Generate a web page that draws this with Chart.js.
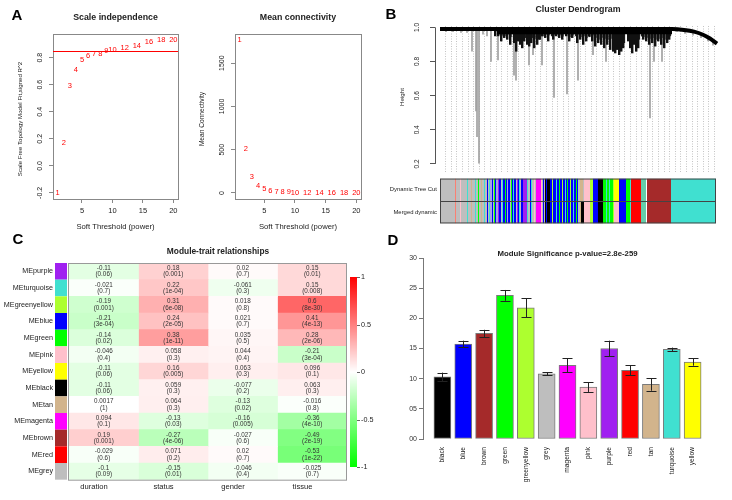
<!DOCTYPE html>
<html>
<head>
<meta charset="utf-8">
<script src="https://cdn.jsdelivr.net/npm/chart.js@4"></script>
<style>
  html, body { margin: 0; padding: 0; background: #fff; }
  #wrap { position: relative; width: 732px; height: 500px; overflow: hidden; }
  canvas { position: absolute; }
</style>
</head>
<body>
<div id="wrap">
  <canvas id="sft" width="190" height="240" style="left:0;top:0"></canvas>
  <canvas id="conn" width="190" height="240" style="left:190px;top:0"></canvas>
  <canvas id="dendro" width="352" height="176" style="left:380px;top:0"></canvas>
  <canvas id="strip" width="352" height="58" style="left:380px;top:172px"></canvas>
  <canvas id="heat" width="380" height="272" style="left:0;top:228px"></canvas>
  <canvas id="bars" width="352" height="272" style="left:380px;top:228px"></canvas>
</div>
<script>
// ---- panel A: soft threshold picking
const powers = [1, 2, 3, 4, 5, 6, 7, 8, 9, 10, 12, 14, 16, 18, 20];
const scaleFitR2 = [-0.20, 0.17, 0.59, 0.71, 0.78, 0.81, 0.83, 0.83, 0.85, 0.86, 0.87, 0.89, 0.92, 0.93, 0.93];
const meanConnectivity = [1767, 512, 186, 81, 45, 25, 14, 10, 7, 5, 3, 2, 1.5, 1, 0.8];
const r2Cutoff = 0.85;
const softTicks = [5, 10, 15, 20];
const r2Ticks = [-0.2, 0, 0.2, 0.4, 0.6, 0.8];
const connTicks = [0, 500, 1000, 1500];

// ---- panel B: dendrogram branches (leaf position, lower merge height)
const greyBranchPos = [5, 12, 20, 26, 31, 35, 36, 38, 42, 46, 50, 57, 62, 73, 75, 88, 92, 101, 113, 126, 137, 152, 165, 209, 213, 221, 236, 244, 252, 260, 267, 272];
const greyBranchLow = [0.975, 0.975, 0.97, 0.97, 0.86, 0.51, 0.36, 0.205, 0.96, 0.95, 0.80, 0.81, 0.95, 0.72, 0.69, 0.78, 0.84, 0.78, 0.59, 0.61, 0.69, 0.84, 0.80, 0.47, 0.80, 0.80, 0.975, 0.965, 0.955, 0.94, 0.92, 0.895];
const greyBranchTop = [0.99, 0.99, 0.99, 0.99, 0.99, 0.99, 0.99, 0.99, 0.99, 0.99, 0.99, 0.99, 0.99, 0.99, 0.99, 0.99, 0.99, 0.99, 0.99, 0.99, 0.99, 0.99, 0.99, 0.99, 0.99, 0.99, 0.99, 0.987, 0.98, 0.965, 0.945, 0.92];
const blackBranchPos = [57, 60, 63, 66, 69, 72, 76, 78, 80, 82, 84, 86, 89, 91, 93, 96, 99, 101, 104, 107, 110, 115, 118, 121, 124, 128, 131, 134, 139, 142, 145, 148, 151, 154, 157, 160, 163, 166, 169, 172, 175, 177, 179, 181, 183, 185, 190, 192, 194, 196, 198, 200, 205, 208, 211, 214, 217, 220, 223, 226, 229, 231];
const blackBranchLow = [0.95, 0.95, 0.92, 0.94, 0.93, 0.90, 0.91, 0.86, 0.92, 0.90, 0.88, 0.92, 0.90, 0.89, 0.91, 0.88, 0.90, 0.93, 0.95, 0.94, 0.92, 0.93, 0.95, 0.94, 0.93, 0.95, 0.92, 0.94, 0.91, 0.93, 0.90, 0.92, 0.95, 0.92, 0.89, 0.91, 0.90, 0.88, 0.90, 0.87, 0.86, 0.85, 0.87, 0.84, 0.86, 0.88, 0.92, 0.88, 0.85, 0.90, 0.86, 0.88, 0.93, 0.92, 0.90, 0.91, 0.89, 0.92, 0.90, 0.88, 0.91, 0.93];
const twigPos = [58.5, 61.5, 64.5, 67.5, 70.5, 74, 77, 79, 81, 83, 85, 87.5, 90, 92, 94.5, 97.5, 100, 102.5, 105.5, 108.5, 112, 113.5, 116.5, 119.5, 122.5, 126, 129.5, 132.5, 136, 137.5, 140.5, 143.5, 146.5, 149.5, 152.5, 155.5, 158.5, 161.5, 164.5, 167.5, 170.5, 173.5, 176, 178, 180, 182, 184, 188.5, 191, 193, 195, 197, 199, 202, 203.5, 206.5, 209.5, 212.5, 215.5, 218.5, 221.5, 224.5, 227.5, 230];
const twigLow = [0.96, 0.955, 0.95, 0.96, 0.945, 0.94, 0.93, 0.935, 0.94, 0.93, 0.94, 0.945, 0.93, 0.94, 0.935, 0.94, 0.93, 0.95, 0.96, 0.955, 0.95, 0.955, 0.96, 0.955, 0.95, 0.96, 0.945, 0.955, 0.95, 0.96, 0.945, 0.95, 0.94, 0.945, 0.955, 0.94, 0.93, 0.94, 0.935, 0.93, 0.935, 0.92, 0.915, 0.91, 0.92, 0.905, 0.91, 0.935, 0.92, 0.91, 0.925, 0.92, 0.93, 0.95, 0.945, 0.94, 0.935, 0.94, 0.93, 0.935, 0.94, 0.93, 0.945, 0.95];
const bandPos = [0, 232, 244, 254, 263, 270, 277];
const bandHeight = [0.99, 0.99, 0.985, 0.975, 0.957, 0.935, 0.905];
const corePos = [57, 232];
const coreHeight = [0.972, 0.972];
const heightTicks = [0.2, 0.4, 0.6, 0.8, 1.0];

// module colour strips, as runs of [colour, number of leaves]
const dynamicRuns = [
  ['grey', 15], ['salmon', 1], ['grey', 4], ['pink', 1], ['grey', 6], ['turquoise', 1], ['grey', 3], ['tan', 1], ['grey', 3], ['turquoise', 1],
  ['grey', 2], ['green', 1], ['grey', 2], ['tan', 1], ['grey', 2], ['turquoise', 1], ['grey', 2], ['blue', 1], ['grey', 1], ['turquoise', 1],
  ['lavender', 2], ['blue', 1], ['grey', 1], ['green', 1], ['blue', 1], ['lavender', 2], ['purple', 1], ['blue', 2], ['grey', 1], ['turquoise', 1],
  ['blue', 2], ['green', 1], ['blue', 1], ['lavender', 1], ['blue', 2], ['grey', 1], ['green', 1], ['blue', 1], ['turquoise', 1], ['blue', 2],
  ['grey', 1], ['purple', 1], ['blue', 1], ['turquoise', 1], ['grey', 1], ['blue', 2], ['purple', 4], ['turquoise', 1], ['grey', 2], ['blue', 1],
  ['turquoise', 1], ['grey', 2], ['pink', 1], ['grey', 1], ['magenta', 5], ['pink', 1], ['grey', 1], ['blue', 1], ['grey', 1], ['black', 1],
  ['blue', 1], ['black', 3], ['blue', 2], ['greenyellow', 1], ['blue', 3], ['turquoise', 1], ['blue', 2], ['green', 1], ['blue', 2], ['greenyellow', 1],
  ['blue', 2], ['turquoise', 1], ['blue', 1], ['green', 1], ['blue', 2], ['greenyellow', 1], ['blue', 2], ['turquoise', 1], ['blue', 2], ['green', 1],
  ['blue', 1], ['grey', 2], ['tan', 3], ['grey', 1], ['pink', 6], ['greenyellow', 3], ['blue', 5], ['black', 5], ['green', 3], ['turquoise', 1],
  ['green', 2], ['turquoise', 1], ['green', 3], ['greenyellow', 1], ['yellow', 5], ['blue', 7], ['green', 4], ['turquoise', 1], ['red', 10], ['aquamarine', 5],
  ['white', 1], ['brown', 24], ['turquoise', 45]
];
const mergedRuns = [
  ['grey', 15], ['salmon', 1], ['grey', 4], ['pink', 1], ['grey', 6], ['turquoise', 1], ['grey', 3], ['tan', 1], ['grey', 3], ['turquoise', 1],
  ['grey', 2], ['green', 1], ['grey', 2], ['tan', 1], ['grey', 2], ['turquoise', 1], ['grey', 2], ['blue', 1], ['grey', 1], ['turquoise', 1],
  ['lavender', 2], ['blue', 1], ['grey', 1], ['green', 1], ['blue', 1], ['lavender', 2], ['purple', 1], ['blue', 2], ['grey', 1], ['turquoise', 1],
  ['blue', 2], ['green', 1], ['blue', 1], ['lavender', 1], ['blue', 2], ['grey', 1], ['green', 1], ['blue', 1], ['turquoise', 1], ['blue', 2],
  ['grey', 1], ['purple', 1], ['blue', 1], ['turquoise', 1], ['grey', 1], ['blue', 2], ['purple', 4], ['turquoise', 1], ['grey', 2], ['blue', 1],
  ['turquoise', 1], ['grey', 2], ['pink', 1], ['grey', 1], ['magenta', 5], ['pink', 1], ['grey', 1], ['blue', 1], ['grey', 1], ['black', 1],
  ['blue', 1], ['black', 3], ['blue', 2], ['greenyellow', 1], ['blue', 3], ['turquoise', 1], ['blue', 2], ['green', 1], ['blue', 2], ['greenyellow', 1],
  ['blue', 2], ['turquoise', 1], ['blue', 1], ['green', 1], ['blue', 2], ['greenyellow', 1], ['blue', 2], ['turquoise', 1], ['blue', 2], ['green', 1],
  ['blue', 1], ['grey', 2], ['tan', 1], ['black', 3], ['pink', 6], ['greenyellow', 3], ['blue', 5], ['black', 5], ['green', 3], ['turquoise', 1],
  ['green', 2], ['turquoise', 1], ['green', 3], ['greenyellow', 1], ['pink', 5], ['blue', 7], ['green', 4], ['turquoise', 1], ['red', 10], ['aquamarine', 5],
  ['white', 1], ['brown', 24], ['turquoise', 45]
];
const stripRows = ['Dynamic Tree Cut', 'Merged dynamic'];

// ---- panel C: module-trait correlations
const modules = ['purple', 'turquoise', 'greenyellow', 'blue', 'green', 'pink', 'yellow', 'black', 'tan', 'magenta', 'brown', 'red', 'grey'];
const traits = ['duration', 'status', 'gender', 'tissue'];
const corDuration = [-0.11, -0.021, -0.19, -0.21, -0.14, -0.046, -0.11, -0.11, 0.0017, 0.094, 0.19, -0.029, -0.1];
const pDuration = ['0.06', '0.7', '0.001', '3e-04', '0.02', '0.4', '0.06', '0.06', '1', '0.1', '0.001', '0.6', '0.09'];
const corStatus = [0.18, 0.22, 0.31, 0.24, 0.38, 0.058, 0.16, 0.059, 0.064, -0.13, -0.27, 0.071, -0.15];
const pStatus = ['0.001', '1e-04', '6e-08', '2e-05', '1e-11', '0.3', '0.005', '0.3', '0.3', '0.03', '4e-06', '0.2', '0.01'];
const corGender = [0.02, -0.061, 0.018, 0.021, 0.035, 0.044, 0.063, -0.077, -0.13, -0.16, -0.027, 0.02, -0.046];
const pGender = ['0.7', '0.3', '0.8', '0.7', '0.5', '0.4', '0.3', '0.2', '0.02', '0.005', '0.6', '0.7', '0.4'];
const corTissue = [0.15, 0.15, 0.6, 0.41, 0.28, -0.21, 0.096, 0.063, -0.016, -0.36, -0.49, -0.53, -0.025];
const pTissue = ['0.01', '0.008', '8e-30', '4e-13', '2e-06', '3e-04', '0.1', '0.3', '0.8', '4e-10', '2e-19', '1e-22', '0.7'];
const legendTicks = [1, 0.5, 0, -0.5, -1];

// ---- panel D: module significance
const msModules = ['black', 'blue', 'brown', 'green', 'greenyellow', 'grey', 'magenta', 'pink', 'purple', 'red', 'tan', 'turquoise', 'yellow'];
const msValues = [10.3, 15.75, 17.5, 23.8, 21.75, 10.8, 12.2, 8.6, 15.0, 11.4, 9.05, 14.85, 12.75];
const msErrors = [0.7, 0.55, 0.6, 0.9, 1.55, 0.25, 1.15, 0.8, 1.3, 0.8, 1.05, 0.3, 0.6];
const msTicks = [0, 5, 10, 15, 20, 25, 30];

const rColors = {
  black: '#000000', blue: '#0000FF', brown: '#A52A2A', green: '#00FF00', greenyellow: '#ADFF2F',
  grey: '#BEBEBE', magenta: '#FF00FF', pink: '#FFC0CB', purple: '#A020F0', red: '#FF0000',
  tan: '#D2B48C', turquoise: '#40E0D0', yellow: '#FFFF00', salmon: '#FA8072', lavender: '#A3A3E6',
  aquamarine: '#66CDAA', white: '#FFFFFF'
};

const FONT = "'Liberation Sans', Arial, Helvetica, sans-serif";
Chart.defaults.font.family = FONT;
Chart.defaults.color = '#222';
Chart.defaults.animation = false;
Chart.defaults.responsive = false;
Chart.defaults.devicePixelRatio = 1;
Chart.defaults.events = [];
Chart.defaults.plugins.legend.display = false;
Chart.defaults.plugins.tooltip.enabled = false;

function txt(ctx, s, x, y, o = {}) {
  ctx.save();
  ctx.font = (o.bold ? 'bold ' : '') + (o.size || 7.5) + 'px ' + FONT;
  ctx.fillStyle = o.color || '#222';
  ctx.textAlign = o.align || 'center';
  ctx.textBaseline = o.baseline || 'middle';
  ctx.translate(x, y);
  if (o.rot) ctx.rotate(o.rot);
  ctx.fillText(s, 0, 0);
  ctx.restore();
}
const UP = -Math.PI / 2;

// two R-style scatter plots of text labels
function powerPlot(id, values, yMin, yMax, yTicks, fmt, axisW, padRight, title, yTitle, yTitleSize, cutoff) {
  return new Chart(document.getElementById(id), {
    type: 'scatter',
    data: { datasets: [{ data: powers.map((p, i) => ({ x: p, y: values[i] })), pointRadius: 0 }] },
    options: {
      layout: { padding: { top: 34, right: padRight, bottom: 0, left: 0 } },
      scales: {
        x: {
          type: 'linear', min: 0.24, max: 20.76,
          afterBuildTicks: s => { s.ticks = softTicks.map(v => ({ value: v })); },
          afterFit: s => { s.height = 41; },
          ticks: { font: { size: 7.5 }, padding: 3, color: '#222' },
          grid: { drawOnChartArea: false, tickLength: 4, color: '#888' },
          border: { display: false }
        },
        y: {
          min: yMin, max: yMax,
          afterBuildTicks: s => { s.ticks = yTicks.map(v => ({ value: v })); },
          afterFit: s => { s.width = axisW; },
          ticks: { display: false },
          grid: { drawOnChartArea: false, tickLength: 4, color: '#888' },
          border: { display: false }
        }
      }
    },
    plugins: [{
      id: 'powerDecor',
      afterDraw(chart) {
        const { ctx, chartArea: a, scales: { x, y } } = chart;
        ctx.save();
        ctx.strokeStyle = '#888';
        ctx.lineWidth = 1;
        ctx.strokeRect(a.left + 0.5, a.top + 0.5, a.width, a.height);
        if (cutoff != null) {
          const py = Math.round(y.getPixelForValue(cutoff)) + 0.5;
          ctx.strokeStyle = '#FF0000';
          ctx.beginPath(); ctx.moveTo(a.left, py); ctx.lineTo(a.right, py); ctx.stroke();
        }
        ctx.restore();
        chart.getDatasetMeta(0).data.forEach((pt, i) =>
          txt(ctx, String(powers[i]), pt.x, pt.y, { color: '#FF0000', size: 7.5 }));
        y.ticks.forEach(t => txt(ctx, fmt(t.value), a.left - 13, y.getPixelForValue(t.value), { rot: UP, size: 7 }));
        txt(ctx, yTitle, a.left - 33, 119, { rot: UP, size: yTitleSize });
        txt(ctx, 'Soft Threshold (power)', (a.left + a.right) / 2, a.bottom + 28, { size: 7.7 });
        txt(ctx, title, (a.left + a.right) / 2, a.top - 16, { bold: true, size: 8.8 });
      }
    }]
  });
}

powerPlot('sft', scaleFitR2, -0.245, 0.975, r2Ticks, v => v.toFixed(1), 53, 12,
  'Scale independence', 'Scale Free Topology Model Fit,signed R^2', 6.1, r2Cutoff);
powerPlot('conn', meanConnectivity, -70, 1838, connTicks, v => String(v), 45, 19,
  'Mean connectivity', 'Mean Connectivity', 6.6, null);
txt(document.getElementById('sft').getContext('2d'), 'A', 17, 16, { bold: true, size: 15, color: '#000' });

// ---- B: cluster dendrogram
new Chart(document.getElementById('dendro'), {
  type: 'bar',
  data: {
    datasets: [
      {
        type: 'line', data: bandPos.map((p, i) => ({ x: p, y: bandHeight[i] })),
        borderColor: '#000', borderWidth: 4, pointRadius: 0, cubicInterpolationMode: 'monotone', order: 0
      },
      {
        type: 'line', data: corePos.map((p, i) => ({ x: p, y: coreHeight[i] })),
        borderColor: '#000', borderWidth: 4, pointRadius: 0, order: 1
      },
      {
        data: blackBranchPos.map((p, i) => ({ x: p, y: [blackBranchLow[i], 0.99] })),
        backgroundColor: '#111', barThickness: 1.8, order: 2
      },
      {
        data: twigPos.map((p, i) => ({ x: p, y: [twigLow[i], 0.99] })),
        backgroundColor: '#222', barThickness: 1.6, order: 3
      },
      {
        data: greyBranchPos.map((p, i) => ({ x: p, y: [greyBranchLow[i], greyBranchTop[i]] })),
        backgroundColor: '#a0a0a0', barThickness: 1, order: 4
      }
    ]
  },
  options: {
    layout: { padding: { top: 26, right: 11, bottom: 3, left: 0 } },
    scales: {
      x: {
        type: 'linear', min: -5, max: 281, offset: false,
        afterBuildTicks: s => { s.ticks = Array.from({ length: 49 }, (_, i) => ({ value: 5.6 * (i + 1) })); },
        afterFit: s => { s.height = 0; },
        ticks: { display: false },
        grid: { offset: false, color: '#c4c4c4', drawTicks: false },
        border: { display: false, dash: [1, 1.5] }
      },
      y: {
        min: 0.147, max: 1.008,
        afterBuildTicks: s => { s.ticks = heightTicks.map(v => ({ value: v })); },
        afterFit: s => { s.width = 55; },
        ticks: { display: false },
        grid: { drawOnChartArea: false, tickLength: 5, color: '#555' },
        border: { display: false }
      }
    }
  },
  plugins: [{
    id: 'dendroDecor',
    afterDraw(chart) {
      const { ctx, chartArea: a, scales: { y } } = chart;
      ctx.save();
      ctx.strokeStyle = '#555';
      ctx.beginPath();
      ctx.moveTo(a.left + 0.5, y.getPixelForValue(1.0));
      ctx.lineTo(a.left + 0.5, y.getPixelForValue(0.2));
      ctx.stroke();
      ctx.restore();
      heightTicks.forEach(v => txt(ctx, v.toFixed(1), a.left - 18, y.getPixelForValue(v), { rot: UP, size: 6.5 }));
      txt(ctx, 'Height', a.left - 33, 97, { rot: UP, size: 6.2 });
      txt(ctx, 'Cluster Dendrogram', (a.left + a.right) / 2, 10, { bold: true, size: 8.8 });
      txt(ctx, 'B', 11, 15, { bold: true, size: 15, color: '#000' });
    }
  }]
});

function runsToBars(runs, row) {
  let start = 0;
  return runs.map(([c, w]) => { const b = { x: [start, start + w], y: row }; start += w; return b; });
}
new Chart(document.getElementById('strip'), {
  type: 'bar',
  data: {
    labels: stripRows,
    datasets: [dynamicRuns, mergedRuns].map((runs, r) => ({
      data: runsToBars(runs, stripRows[r]),
      backgroundColor: runs.map(([c]) => rColors[c]),
      borderWidth: 0, grouped: false, barPercentage: 1, categoryPercentage: 1, inflateAmount: 0
    }))
  },
  options: {
    indexAxis: 'y',
    layout: { padding: { top: 3, right: 16, bottom: 4, left: 0 } },
    scales: {
      x: { type: 'linear', display: false, min: 0, max: 276 },
      y: {
        afterFit: s => { s.width = 60; },
        ticks: { font: { size: 5.9 }, padding: 3, color: '#222' },
        grid: { display: false, drawTicks: false },
        border: { display: false }
      }
    }
  },
  plugins: [{
    id: 'stripFrame',
    afterDraw(chart) {
      const { ctx, chartArea: a } = chart;
      ctx.save();
      ctx.strokeStyle = '#444';
      ctx.lineWidth = 1;
      ctx.strokeRect(a.left + 0.5, a.top + 0.5, a.width - 1, a.height - 1);
      const mid = Math.round((a.top + a.bottom) / 2) + 0.5;
      ctx.beginPath(); ctx.moveTo(a.left, mid); ctx.lineTo(a.right, mid); ctx.stroke();
      ctx.restore();
    }
  }]
});

// ---- C: module-trait heatmap
const traitCors = [corDuration, corStatus, corGender, corTissue];
const traitPs = [pDuration, pStatus, pGender, pTissue];
function corColor(v) {
  const k = Math.round(255 * (1 - Math.min(1, Math.abs(v))));
  return v >= 0 ? `rgb(255,${k},${k})` : `rgb(${k},255,${k})`;
}
new Chart(document.getElementById('heat'), {
  type: 'bar',
  data: {
    labels: modules.map(m => 'ME' + m),
    datasets: traitCors.map((cors, j) => ({
      data: cors.map(() => [j, j + 1]),
      backgroundColor: cors.map(corColor),
      borderWidth: 0, grouped: false, barPercentage: 1, categoryPercentage: 1
    }))
  },
  options: {
    indexAxis: 'y',
    layout: { padding: { top: 35, right: 33, bottom: 0, left: 0 } },
    scales: {
      x: {
        type: 'linear', min: 0, max: 4,
        afterBuildTicks: s => { s.ticks = traits.map((t, i) => ({ value: i + 0.36 })); },
        afterFit: s => { s.height = 20; },
        ticks: { callback: (v, i) => traits[i], font: { size: 7.6 }, padding: 2.5, maxRotation: 0, autoSkip: false, color: '#222' },
        grid: { display: false, drawTicks: false },
        border: { display: false }
      },
      y: {
        afterFit: s => { s.width = 69; },
        ticks: { font: { size: 7.2 }, padding: 16, autoSkip: false, color: '#222' },
        grid: { display: false, drawTicks: false },
        border: { display: false }
      }
    }
  },
  plugins: [{
    id: 'heatDecor',
    afterDraw(chart) {
      const { ctx, chartArea: a, scales: { x, y } } = chart;
      const rowH = a.height / modules.length;
      modules.forEach((m, i) => {
        ctx.fillStyle = rColors[m];
        const cy = y.getPixelForValue(i);
        ctx.fillRect(55, cy - rowH / 2, 12, rowH);
      });
      traitCors.forEach((cors, j) => cors.forEach((v, i) => {
        const cx = x.getPixelForValue(j + 0.5), cy = y.getPixelForValue(i);
        txt(ctx, String(v), cx, cy - 3.2, { size: 6.3, color: '#333' });
        txt(ctx, '(' + traitPs[j][i] + ')', cx, cy + 3.4, { size: 6.3, color: '#333' });
      }));
      ctx.save();
      ctx.strokeStyle = '#999';
      ctx.lineWidth = 1;
      ctx.strokeRect(a.left - 0.5, a.top + 0.5, a.width, a.height);
      // colour key
      const kx = 350, kTop = 49, kBot = 239;
      for (let py = kTop; py < kBot; py++) {
        ctx.fillStyle = corColor(1 - 2 * (py - kTop + 0.5) / (kBot - kTop));
        ctx.fillRect(kx, py, 7, 1);
      }
      ctx.strokeStyle = '#666';
      legendTicks.forEach(v => {
        const py = Math.round(kBot - (v + 1) / 2 * (kBot - kTop)) + 0.5;
        ctx.beginPath(); ctx.moveTo(kx + 7, py); ctx.lineTo(kx + 10, py); ctx.stroke();
        txt(ctx, String(v), kx + 11, py, { align: 'left', size: 7.2 });
      });
      ctx.restore();
      txt(ctx, 'Module-trait relationships', 218, 24, { bold: true, size: 8.4 });
      txt(ctx, 'C', 18, 12, { bold: true, size: 15, color: '#000' });
    }
  }]
});

// ---- D: module significance bars
new Chart(document.getElementById('bars'), {
  type: 'bar',
  data: {
    datasets: [{
      data: msModules.map((m, i) => ({ x: 0.7 + 1.2 * i, y: msValues[i] })),
      backgroundColor: msModules.map(m => rColors[m]),
      borderColor: '#7a7a7a', borderWidth: 1, borderSkipped: false, barThickness: 17
    }]
  },
  options: {
    layout: { padding: { top: 30, right: 20, bottom: 61, left: 0 } },
    scales: {
      x: { type: 'linear', display: false, min: -0.416, max: 16.216, offset: false },
      y: {
        min: 0, max: 30,
        afterBuildTicks: s => { s.ticks = msTicks.map(v => ({ value: v })); },
        afterFit: s => { s.width = 43; },
        ticks: { font: { size: 7 }, padding: 2, color: '#333', callback: v => String(v).padStart(2, '0') },
        grid: { drawOnChartArea: false, tickLength: 4, color: '#777' },
        border: { color: '#777' }
      }
    }
  },
  plugins: [{
    id: 'barDecor',
    afterDatasetsDraw(chart) {
      const { ctx, scales: { x, y } } = chart;
      ctx.save();
      ctx.strokeStyle = '#222';
      ctx.lineWidth = 1;
      msModules.forEach((m, i) => {
        const px = Math.round(x.getPixelForValue(0.7 + 1.2 * i)) + 0.5;
        const hi = y.getPixelForValue(msValues[i] + msErrors[i]);
        const lo = y.getPixelForValue(msValues[i] - msErrors[i]);
        ctx.beginPath();
        ctx.moveTo(px, hi); ctx.lineTo(px, lo);
        ctx.moveTo(px - 5, Math.round(hi) + 0.5); ctx.lineTo(px + 5, Math.round(hi) + 0.5);
        ctx.moveTo(px - 5, Math.round(lo) + 0.5); ctx.lineTo(px + 5, Math.round(lo) + 0.5);
        ctx.stroke();
      });
      ctx.restore();
    },
    afterDraw(chart) {
      const { ctx, chartArea: a, scales: { x } } = chart;
      msModules.forEach((m, i) =>
        txt(ctx, m, x.getPixelForValue(0.7 + 1.2 * i), a.bottom + 8, { rot: UP, align: 'right', size: 6.6 }));
      txt(ctx, 'Module Significance p-value=2.8e-259', (a.left + a.right) / 2, 26, { bold: true, size: 7.8 });
      txt(ctx, 'D', 13, 13, { bold: true, size: 15, color: '#000' });
    }
  }]
});
</script>
</body>
</html>
